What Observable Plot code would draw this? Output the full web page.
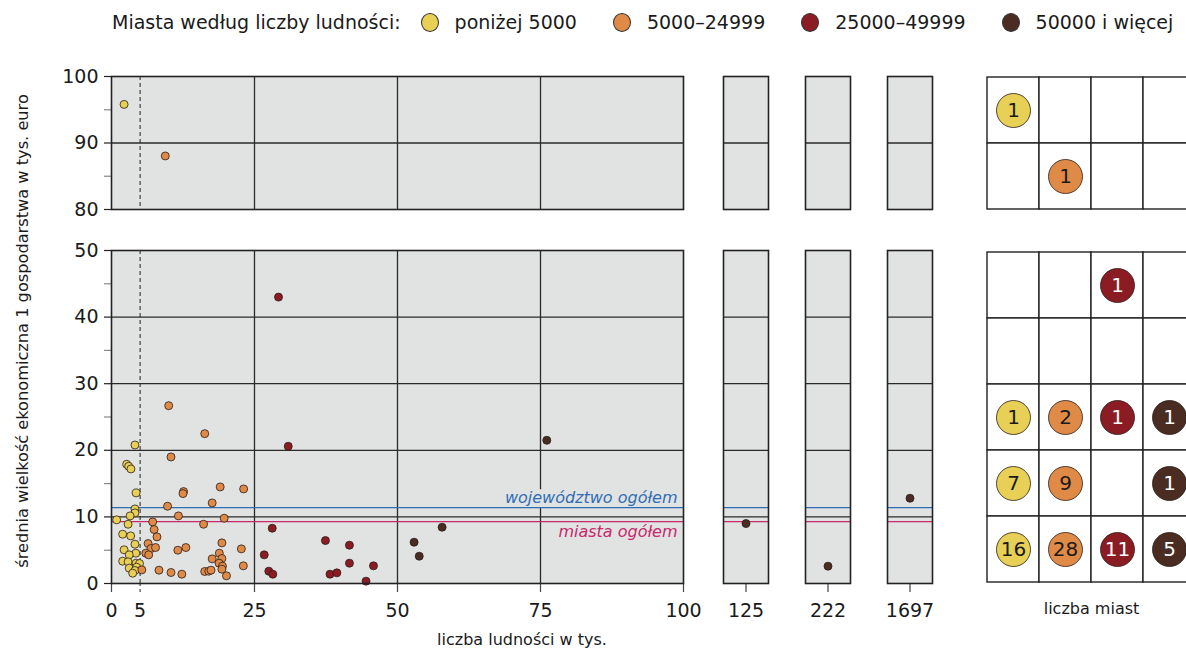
<!DOCTYPE html>
<html><head><meta charset="utf-8">
<script src="https://cdn.jsdelivr.net/npm/d3@7"></script>
<script src="https://cdn.jsdelivr.net/npm/@observablehq/plot@0.6"></script>
<style>
html,body{margin:0;padding:0;background:#fff;overflow:hidden;}
#root{position:relative;width:1186px;height:651px;overflow:hidden;font-family:"DejaVu Sans",sans-serif;color:#1a1a1a;}
#root svg{position:absolute;}
#legend{position:absolute;left:112px;top:11px;height:22px;display:flex;align-items:center;font-size:19px;white-space:nowrap;}
#legend .sw{display:inline-block;width:18px;height:19px;border-radius:50%;border:1px solid #333;box-sizing:border-box;}
#ytitle{position:absolute;left:22px;top:331px;transform:translate(-50%,-50%) rotate(-90deg);white-space:nowrap;font-size:16.2px;}
#xtitle{position:absolute;left:0;width:1044px;top:630px;text-align:center;font-size:16px;white-space:nowrap;}
</style></head><body><div id="root"><div id="legend"></div><div id="ytitle"></div><div id="xtitle"></div></div>
<script>
// ---------- data ----------
const legendTitle = "Miasta według liczby ludności:";
const categories = ["poniżej 5000", "5000–24999", "25000–49999", "50000 i więcej"];
const colors = ["#e8cf55", "#e08a47", "#8b1c24", "#4a2c22"];
const countTextColors = ["#1a1a1a", "#1a1a1a", "#ffffff", "#ffffff"];

// [population in thousands, mean economic size in thousand euro]
const under5000 = [[2.2,95.8],[4.1,20.8],[2.65,17.9],[3.0,17.6],[3.4,17.2],[4.3,13.6],[4.1,11.2],[4.1,10.6],[3.25,10.15],[0.9,9.56],[2.9,8.9],[1.95,7.4],[3.35,7.15],[4.1,5.9],[2.2,5.06],[4.25,4.55],[3.1,4.3],[1.95,3.35],[2.9,3.25],[4.3,3.05],[4.9,3.0],[3.1,2.3],[4.4,2.45],[4.1,1.95],[3.7,1.55]];
const from5000to24999 = [[9.4,88.05],[10.0,26.7],[16.3,22.5],[10.4,19.0],[19.0,14.5],[23.1,14.2],[12.6,13.8],[12.5,13.5],[17.6,12.1],[9.8,11.6],[11.7,10.15],[19.7,9.8],[16.1,8.9],[7.2,9.25],[7.45,8.1],[7.95,7.0],[6.4,6.0],[6.9,5.25],[7.7,5.4],[6.0,4.55],[6.5,4.3],[5.3,2.05],[8.3,2.0],[10.4,1.65],[12.3,1.4],[11.6,5.0],[13.0,5.4],[19.3,6.1],[22.7,5.2],[18.85,4.55],[17.6,3.7],[19.3,3.75],[18.8,3.05],[19.4,2.6],[23.05,2.65],[19.3,2.15],[16.3,1.8],[17.0,1.85],[17.4,2.0],[20.1,1.15]];
const from25000to49999 = [[29.2,43.0],[30.9,20.6],[28.1,8.3],[26.7,4.3],[27.5,1.85],[28.2,1.4],[37.4,6.45],[41.6,5.75],[41.6,3.05],[38.2,1.4],[39.4,1.6],[45.8,2.65],[44.5,0.35]];
const from50000 = [[57.8,8.45],[52.9,6.2],[53.8,4.1],[76.1,21.5],[125,9.0],[222,2.6],[1697,12.8]];
const series = [under5000, from5000to24999, from25000to49999, from50000];

const meanVoivodeship = 11.4;
const meanCities = 9.3;
const meanVoivodeshipLabel = "województwo ogółem";
const meanCitiesLabel = "miasta ogółem";
const thresholdPop = 5;

const xTicks = [0, 25, 50, 75, 100];
const xGrid = [25, 50, 75];
const yTicksUpper = [80, 90, 100];
const yMinorUpper = [85, 95];
const yGridUpper = [90];
const yTicksLower = [0, 10, 20, 30, 40, 50];
const yMinorLower = [5, 15, 25, 35, 45];
const yGridLower = [10, 20, 30, 40];

// number of towns per value band (rows) and size class (columns)
const countBandsUpper = ["90–100", "80–90"];
const countBandsLower = ["40–50", "30–40", "20–30", "10–20", "0–10"];
const countsUnder5000 = [1, 0, 0, 0, 1, 7, 16];
const counts5000to24999 = [0, 1, 0, 0, 2, 9, 28];
const counts25000to49999 = [0, 0, 1, 0, 1, 0, 11];
const counts50000 = [0, 0, 0, 0, 1, 1, 5];
const countSeries = [countsUnder5000, counts5000to24999, counts25000to49999, counts50000];

const yTitle = "średnia wielkość ekonomiczna 1 gospodarstwa w tys. euro";
const xTitle = "liczba ludności w tys.";
const gridTitle = "liczba miast";

// ---------- styles ----------
const panelFill = "#e1e2e2";
const lineColor = "#2a2a2a";
const blue = "#2f6db5";
const pink = "#c8286c";
const font = "DejaVu Sans";
const baseStyle = {background: "transparent", fontFamily: font, fontSize: "19px", color: "#1a1a1a", overflow: "visible"};
const colorScale = {domain: categories, range: colors};
const dotOpts = {r: 4, fill: "cat", stroke: "#2a1d18", strokeWidth: 0.8};
const gridOpts = {stroke: lineColor, strokeOpacity: 1, strokeWidth: 1.3};

// ---------- tables ----------
const points = categories.flatMap((cat, i) => series[i].map(([pop, val]) => ({cat, pop, val})));
const mainPoints = points.filter(d => d.pop <= 100);
const bigPoints = points.filter(d => d.pop > 100).map(d => ({...d, label: String(d.pop)}));
const bigLabels = bigPoints.map(d => d.label);
const allBands = [...countBandsUpper, ...countBandsLower];
const countRows = categories.flatMap((cat, i) => allBands.map((band, j) => ({cat, band, n: countSeries[i][j], tc: countTextColors[i]})));

const root = document.getElementById("root");
function place(svg, left, top) { svg.style.left = left + "px"; svg.style.top = top + "px"; root.appendChild(svg); }

// ---------- legend & titles ----------
const legend = document.getElementById("legend");
const t0 = document.createElement("span"); t0.textContent = legendTitle; legend.appendChild(t0);
categories.forEach((c, i) => {
  const sw = document.createElement("span"); sw.className = "sw"; sw.style.background = colors[i];
  sw.style.marginLeft = (i === 0 ? 20 : 36) + "px";
  const tx = document.createElement("span"); tx.textContent = c; tx.style.marginLeft = "16px";
  legend.appendChild(sw); legend.appendChild(tx);
});
document.getElementById("ytitle").textContent = yTitle;
document.getElementById("xtitle").textContent = xTitle;

// ---------- main panels ----------
function mainPanel(yDomain, major, minor, grid, withBottom) {
  const data = mainPoints.filter(d => d.val >= yDomain[0] && d.val <= yDomain[1]);
  const marks = [
    Plot.frame({fill: panelFill, stroke: null}),
    Plot.gridX({ticks: xGrid, ...gridOpts}),
    Plot.gridY({ticks: grid, ...gridOpts}),
    Plot.ruleX([thresholdPop], {stroke: "#222", strokeWidth: 1, strokeDasharray: "4,3"}),
    Plot.axisY({ticks: minor, tickSize: 7, tickFormat: () => "", stroke: "#888", strokeWidth: 1.2, label: null}),
    Plot.axisY({ticks: major, tickSize: 7, tickPadding: 6, stroke: "#222", strokeWidth: 1.2, fill: "#1a1a1a", label: null})
  ];
  if (withBottom) {
    marks.push(
      Plot.text([meanVoivodeship], {y: d => d, text: () => meanVoivodeshipLabel, frameAnchor: "right", textAnchor: "end", lineAnchor: "bottom", dx: -6, dy: -5, fill: blue, stroke: panelFill, strokeWidth: 10, paintOrder: "stroke", fontStyle: "italic", fontSize: 16}),
      Plot.text([meanCities], {y: d => d, text: () => meanCitiesLabel, frameAnchor: "right", textAnchor: "end", lineAnchor: "top", dx: -6, dy: 4, fill: pink, stroke: panelFill, strokeWidth: 10, paintOrder: "stroke", fontStyle: "italic", fontSize: 16}),
      Plot.ruleY([meanVoivodeship], {stroke: blue, strokeWidth: 1.3}),
      Plot.ruleY([meanCities], {stroke: pink, strokeWidth: 1.3}),
      Plot.axisX({ticks: xTicks, tickSize: 9, tickPadding: 11, stroke: "#444", strokeWidth: 1.2, fill: "#1a1a1a", label: null}),
      Plot.axisX({ticks: [thresholdPop], tickSize: 9, tickPadding: 11, stroke: "#222", strokeDasharray: "3,3", fill: "#1a1a1a", label: null})
    );
  }
  marks.push(
    Plot.dot(data, {x: "pop", y: "val", ...dotOpts}),
    Plot.frame({stroke: "#222", strokeWidth: 1.6})
  );
  return Plot.plot({
    width: 693, height: withBottom ? 411 : 153,
    marginLeft: 111, marginRight: 10, marginTop: 10, marginBottom: withBottom ? 68 : 10,
    style: baseStyle,
    x: {domain: [0, 100], axis: null},
    y: {domain: yDomain, axis: null},
    color: colorScale,
    marks
  });
}
place(mainPanel([80, 100], yTicksUpper, yMinorUpper, yGridUpper, false), 0, 66);
place(mainPanel([0, 50], yTicksLower, yMinorLower, yGridLower, true), 0, 240);

// ---------- big-city panels ----------
function bigPanel(yDomain, grid, withBottom) {
  const marks = [
    Plot.frame({fill: panelFill, stroke: null}),
    Plot.gridY({ticks: grid, ...gridOpts})
  ];
  if (withBottom) {
    marks.push(
      Plot.ruleY([meanVoivodeship], {stroke: blue, strokeWidth: 1.3}),
      Plot.ruleY([meanCities], {stroke: pink, strokeWidth: 1.3}),
      Plot.dot(bigPoints, {y: "val", ...dotOpts})
    );
  }
  marks.push(Plot.frame({stroke: "#222", strokeWidth: 1.6}));
  return Plot.plot({
    width: 250, height: withBottom ? 411 : 153,
    marginLeft: 23, marginRight: 17, marginTop: 10, marginBottom: withBottom ? 68 : 10,
    style: baseStyle,
    facet: {data: bigPoints, x: "label"},
    fx: {domain: bigLabels, paddingInner: 0.448, paddingOuter: 0, label: null,
         axis: withBottom ? "bottom" : null, tickSize: 9, tickPadding: 11},
    y: {domain: yDomain, axis: null},
    color: colorScale,
    marks
  });
}
place(bigPanel([80, 100], yGridUpper, false), 700, 66);
place(bigPanel([0, 50], yGridLower, true), 700, 240);

// ---------- count grid ----------
function countPanel(bands, withBottom) {
  const rows = countRows.filter(d => bands.includes(d.band));
  const filled = rows.filter(d => d.n > 0);
  const textColorsUsed = [...new Set(countTextColors)];
  const marks = [
    Plot.cell(rows, {x: "cat", y: "band", fill: "white", stroke: "#222", strokeWidth: 1.4}),
    Plot.dot(filled, {x: "cat", y: "band", r: 17, fill: "cat", stroke: "#2a1d18", strokeWidth: 0.8}),
    ...textColorsUsed.map(c => Plot.text(filled.filter(d => d.tc === c), {x: "cat", y: "band", text: d => String(d.n), fill: c, fontSize: 20}))
  ];
  if (withBottom) marks.push(Plot.text([gridTitle], {frameAnchor: "bottom", dy: 25, lineAnchor: "middle", fontSize: 16, fill: "#1a1a1a"}));
  return Plot.plot({
    width: 240, height: withBottom ? 380 : 153,
    marginLeft: 12, marginRight: 20, marginTop: 10, marginBottom: withBottom ? 37 : 10,
    style: baseStyle,
    x: {domain: categories, padding: 0, axis: null},
    y: {domain: bands, padding: 0, axis: null},
    color: colorScale,
    marks
  });
}
place(countPanel(countBandsUpper, false), 975, 66);
place(countPanel(countBandsLower, true), 975, 240);
</script></body></html>
